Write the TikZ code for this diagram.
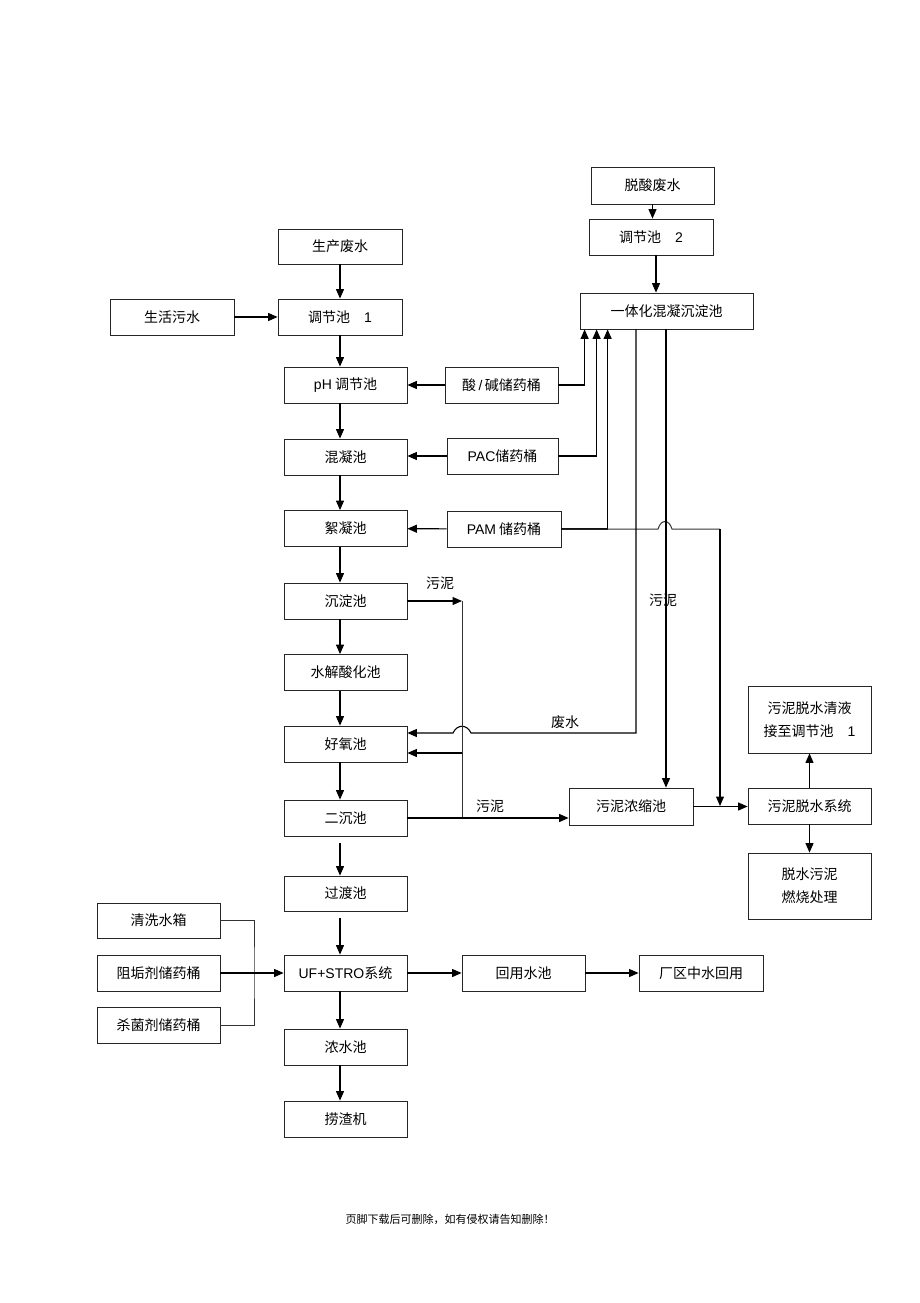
\documentclass[tikz,border=0pt]{standalone}
\usepackage{fontspec}
\setmainfont{Liberation Sans}
\newfontfamily\cjk{Noto Sans CJK SC}
\usetikzlibrary{arrows.meta,positioning,calc}

\begin{document}
\begin{tikzpicture}[x=1pt,y=-1pt,
	box/.style={draw=black!85,line width=0.8pt,minimum width=123pt,minimum height=36pt,inner sep=0pt,align=center,font=\cjk\fontsize{14}{23}\selectfont},
	arr/.style={line width=1.1pt,-{Triangle[length=9.5pt,width=8pt]}},
	ln/.style={line width=1pt,black!80},
	lbl/.style={font=\cjk\fontsize{14}{17}\selectfont}]
	\useasboundingbox (0,0) rectangle (920,1303);
	\coordinate (mx) at (340,0);
	% main column
	\node[box,minimum width=124pt,minimum height=35pt] (scfs) at (340,246.5) {生产废水};
	\node[box,minimum width=124pt] (tj1) at (340,317) {调节池\quad{\rmfamily 1}};
	\node[box,minimum width=124pt] (shws) at (172,317) {生活污水};
	\node[box] (ph) at (345.5,385) {{\rmfamily pH} 调节池};
	\node[box] (hn) at (345.5,457) {混凝池};
	\node[box] (xn) at (345.5,528.5) {絮凝池};
	\node[box] (cd) at (345.5,601) {沉淀池};
	\node[box] (sj) at (345.5,672.5) {水解酸化池};
	\node[box] (hy) at (345.5,744) {好氧池};
	\node[box] (ec) at (345.5,818) {二沉池};
	\node[box,minimum height=35pt] (gd) at (345.5,893.5) {过渡池};
	\node[box] (uf) at (345.5,973) {{\rmfamily UF+STRO}系统};
	\node[box] (ns) at (345.5,1047) {浓水池};
	\node[box] (lz) at (345.5,1119) {捞渣机};
	% right side
	\node[box,minimum height=37pt] (tsfs) at (652.5,185.5) {脱酸废水};
	\node[box,minimum width=124pt] (tj2) at (651,237) {调节池\quad{\rmfamily 2}};
	\node[box,minimum width=173pt] (yth) at (666.5,311) {一体化混凝沉淀池};
	\node[box,minimum width=113pt] (sjt) at (501.5,385) {酸{\rmfamily\,/\,}碱储药桶};
	\node[box,minimum width=111pt] (pac) at (502.5,456) {{\rmfamily PAC}储药桶};
	\node[box,minimum width=114pt] (pam) at (504,529) {{\rmfamily PAM} 储药桶};
	\node[box,minimum width=124pt,minimum height=37pt] (wnns) at (631,806.5) {污泥浓缩池};
	\node[box] (wnts) at (809.5,806) {污泥脱水系统};
	\node[box,minimum height=67pt] (qy) at (809.5,719.5) {污泥脱水清液\\接至调节池\quad{\rmfamily 1}};
	\node[box,minimum height=66pt] (tswn) at (809.5,886) {脱水污泥\\燃烧处理};
	% bottom
	\node[box,minimum height=35pt] (qxsx) at (158.5,920.5) {清洗水箱};
	\node[box] (zgj) at (158.5,973) {阻垢剂储药桶};
	\node[box] (sjj) at (158.5,1025) {杀菌剂储药桶};
	\node[box] (hysc) at (523.5,973) {回用水池};
	\node[box,minimum width=124pt] (cqzs) at (701,973) {厂区中水回用};
	\node[lbl] (l1) at (663,600) {污泥};
	\node[lbl] (l2) at (440,583) {污泥};
	\node[lbl] (l3) at (490,806) {污泥};
	\node[lbl] (l4) at (565,722) {废水};
	\node[font=\cjk\fontsize{11}{13}\selectfont] (ft) at (450,1219) {页脚下载后可删除，如有侵权请告知删除！};

	\draw[arr] (scfs.south -| mx) -- (tj1.north -| mx);
	\draw[arr] (tj1.south -| mx) -- (ph.north -| mx);
	\draw[arr] (ph.south -| mx) -- (hn.north -| mx);
	\draw[arr] (hn.south -| mx) -- (xn.north -| mx);
	\draw[arr] (xn.south -| mx) -- (cd.north -| mx);
	\draw[arr] (cd.south -| mx) -- (sj.north -| mx);
	\draw[arr] (sj.south -| mx) -- (hy.north -| mx);
	\draw[arr] (hy.south -| mx) -- (ec.north -| mx);
	\draw[arr,shorten <=7pt] (ec.south -| mx) -- (gd.north -| mx);
	\draw[arr,shorten <=7pt] (gd.south -| mx) -- (uf.north -| mx);
	\draw[arr] (uf.south -| mx) -- (ns.north -| mx);
	\draw[arr] (ns.south -| mx) -- (lz.north -| mx);
	\draw[arr] (shws) -- (tj1);
	\draw[arr] (sjt) -- (ph);
	\draw[arr] (pac.west) -- (pac.west -| hn.east);
	\draw[arr] (pam) -- (xn);

	\draw[arr] (tsfs.south) -- (tsfs.south |- tj2.north);
	\draw[arr] ([xshift=5pt]tj2.south) -- ([xshift=5pt]tj2.south |- yth.north);
	\draw[arr] (sjt.east) -| ([xshift=5pt]yth.south west);
	\draw[arr] (pac.east) -| ([xshift=17pt]yth.south west);
	\draw[arr] (pam.east) -| ([xshift=28pt]yth.south west);
	\coordinate (pk) at (720,529);
	\draw[ln] (pam.east) -- (658,529) .. controls (661,519) and (669,519) .. (672,529) -- (pk);
	\draw[arr] (pk) -- (pk |- wnts.west);
	\coordinate (fs) at (636,733);
	\draw[arr] (fs |- yth.south) -- (fs) -- (471,733) .. controls (467,724) and (457,724) .. (453,733) -- (hy.east |- fs);
	\coordinate (wn) at (666,600);
	\draw[arr] (wn |- yth.south) -- (wn |- wnns.north);

	\coordinate (wa) at (462,601);
	\coordinate (wb) at (462,817);
	\coordinate (wc) at (462,753);
	\draw[arr] (cd.east) -- (wa);
	\draw[ln] (wa) -- (wb);
	\draw[arr] (wc) -- (wc -| hy.east);
	\draw[arr] (ec.east) -- (ec.east -| wnns.west);
	\draw[arr] (wnns.east) -- (wnns.east -| wnts.west);
	\draw[arr] (wnts) -- (qy);
	\draw[arr] (wnts) -- (tswn);

	\coordinate (bj) at (254,973);
	\draw[ln] (qxsx.east) -| (bj) |- (sjj.east);
	\draw[arr] (zgj) -- (uf);
	\draw[arr] (uf) -- (hysc);
	\draw[arr] (hysc) -- (cqzs);
\end{tikzpicture}
\end{document}
